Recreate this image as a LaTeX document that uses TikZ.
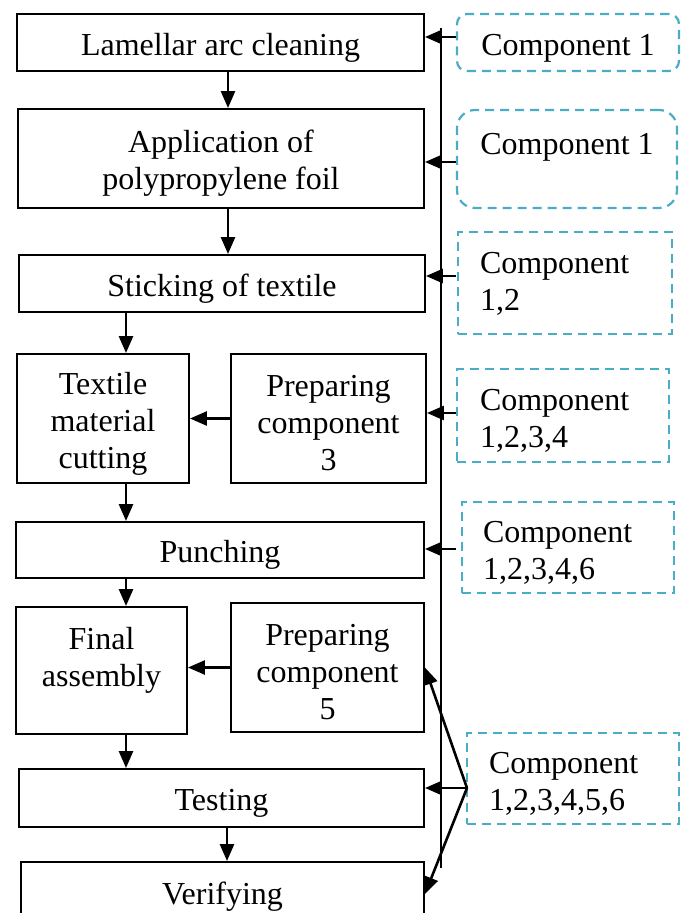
\documentclass[tikz,border=0pt]{standalone}
\usepackage{fontspec}
\setmainfont{Liberation Serif}
\usetikzlibrary{arrows.meta}
\definecolor{aqua}{HTML}{4BACC6}
\begin{document}
\begin{tikzpicture}[x=1pt,y=-1pt,
  box/.style={draw, line width=1.9pt, inner sep=0pt},
  comp/.style={draw=aqua, line width=2.2pt, dash pattern=on 9pt off 6pt, inner sep=0pt},
  lab/.style={inner sep=0pt, align=center, yshift=-5pt, font=\fontsize{32}{37}\selectfont},
  clab/.style={inner sep=0pt, align=left, yshift=-5pt, font=\fontsize{32}{37}\selectfont},
  arr/.style={line width=2.6pt, -{Triangle[length=17pt,width=14pt]}},
  vline/.style={line width=1.9pt}]
\useasboundingbox (0,0) rectangle (688,913);
\clip (0,0) rectangle (688,913);

% main process boxes
\node[box, minimum width=407pt, minimum height=57pt, label={[lab]center:Lamellar arc cleaning}] (b1) at (220.5,42.5) {};
\node[box, minimum width=406pt, minimum height=99pt, label={[lab]center:{Application of\\polypropylene foil}}] (b2) at (221,158.5) {};
\node[box, minimum width=406pt, minimum height=57pt, label={[lab]center:Sticking of textile}] (b3) at (222,283.5) {};
\node[box, minimum width=172pt, minimum height=129pt, label={[lab]center:{Textile\\material\\cutting}}] (b4) at (103,418.5) {};
\node[box, minimum width=195pt, minimum height=129pt, label={[lab]center:{Preparing\\component\\3}}] (b5) at (328.5,418.5) {};
\node[box, minimum width=408pt, minimum height=56pt, label={[lab]center:Punching}] (b6) at (220,550) {};
\node[box, minimum width=171pt, minimum height=127pt, label={[lab]center:{Final\\assembly\\\mbox{}}}] (b7) at (101.5,670.5) {};
\node[box, minimum width=193pt, minimum height=129pt, label={[lab]center:{Preparing\\component\\5}}] (b8) at (327.5,667.5) {};
\node[box, minimum width=405pt, minimum height=58pt, label={[lab]center:Testing}] (b9) at (221.5,798) {};
\node[box, minimum width=403pt, minimum height=64pt, label={[lab,yshift=2pt]center:Verifying}] (b10) at (222.5,894) {};

% component boxes
\node[comp, rounded corners=10pt, minimum width=222pt, minimum height=57pt, label={[lab,yshift=-1pt]center:Component 1}] (c1) at (568,42.5) {};
\node[comp, rounded corners=18pt, minimum width=220pt, minimum height=98pt, label={[lab,yshift=2pt]center:{Component 1\\\mbox{}}}] (c2) at (567,159) {};
\node[comp, minimum width=214pt, minimum height=102pt, label={[clab,yshift=4pt,text width=170pt]center:{Component\\1,2}}] (c3) at (565,283) {};
\node[comp, minimum width=212pt, minimum height=93pt, label={[clab,text width=166pt]center:{Component\\1,2,3,4}}] (c4) at (563,415.5) {};
\node[comp, minimum width=212pt, minimum height=91pt, label={[clab,text width=170pt]center:{Component\\1,2,3,4,6}}] (c5) at (568,547.5) {};
\node[comp, minimum width=212pt, minimum height=91pt, label={[clab,text width=168pt]center:{Component\\1,2,3,4,5,6}}] (c6) at (573,778.5) {};

% vertical line
\coordinate (vtop) at (441,28);
\coordinate (vbot) at (441,868);
\draw[vline] (vtop) -- (vbot);

% down-arrow x positions
\coordinate (xa) at (228,0);
\coordinate (xb) at (126,0);
\coordinate (xc) at (227,0);
\draw[arr] (b1.south -| xa) -- (b2.north -| xa);
\draw[arr] (b2.south -| xa) -- (b3.north -| xa);
\draw[arr] (b3.south -| xb) -- (b4.north -| xb);
\draw[arr] (b4.south -| xb) -- (b6.north -| xb);
\draw[arr] (b6.south -| xb) -- (b7.north -| xb);
\draw[arr] (b7.south -| xb) -- (b9.north -| xb);
\draw[arr] (b9.south -| xc) -- (b10.north -| xc);

% side arrows
\draw[arr] (b5.west) -- (b5.west -| b4.east);
\draw[arr] (b8.west) -- (b8.west -| b7.east);

% arrows from component boxes
\coordinate (s1) at (456,37);
\coordinate (s2) at (456,162);
\coordinate (s3) at (456,276);
\coordinate (s4) at (456,413);
\coordinate (s5) at (456,549);
\coordinate (s6) at (467,788);
\draw[arr] (s1) -- (s1 -| b1.east);
\draw[arr] (s2) -- (s2 -| b2.east);
\draw[arr] (s3) -- (s3 -| b3.east);
\draw[arr] (s4) -- (s4 -| b5.east);
\draw[arr] (s5) -- (s5 -| b6.east);
\draw[arr] (s6) -- (s6 -| b9.east);
\draw[arr] (s6) -- (b8.east);
\draw[arr] (s6) -- (b10.east);
\end{tikzpicture}
\end{document}
